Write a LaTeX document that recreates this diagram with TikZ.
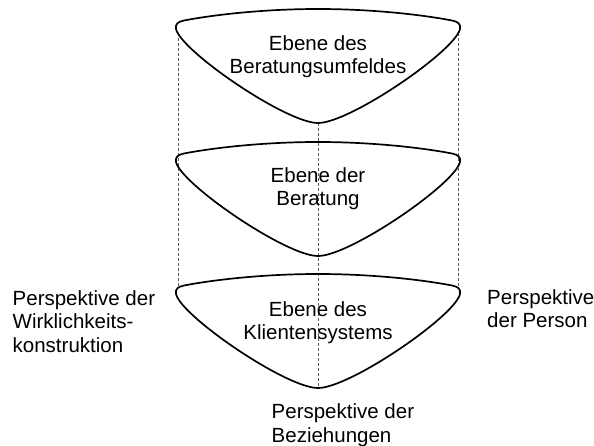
\documentclass[tikz,border=0pt]{standalone}
\usepackage{fontspec}
\setmainfont{Liberation Sans}
\begin{document}
\begin{tikzpicture}[x=1pt,y=-1pt,
  ebenebox/.style={draw=black,line width=1.7pt,line join=round},
  guide/.style={draw=black!65,line width=0.6pt,dash pattern=on 3pt off 2pt},
  txt/.style={inner sep=0pt,font=\fontsize{20.5}{23.5}\selectfont},
]
\useasboundingbox (0,0) rectangle (594,446);
\newcommand\ebenepath[1]{%
  \draw[ebenebox,shift={(318,#1)}]
    (0,0) .. controls (-50,0) and (-100,5) .. (-134,11.5)
    .. controls (-140,12.7) and (-143,15) .. (-142,20)
    .. controls (-137,42) and (-32,114) .. (0,114)
    .. controls (32,114) and (137,42) .. (142,20)
    .. controls (143,15) and (140,12.7) .. (134,11.5)
    .. controls (100,5) and (50,0) .. (0,0) -- cycle;}
% guide coordinates
\coordinate (l1) at (178,33);
\coordinate (l3) at (178,286);
\coordinate (r1) at (458,33);
\coordinate (r3) at (458,286);
\coordinate (m1) at (318,123);
\coordinate (m3) at (318,388);
\draw[guide] (l1) -- (l3);
\draw[guide] (r1) -- (r3);
\draw[guide] (m1) -- (m3);
% shapes
\ebenepath{9}
\ebenepath{142}
\ebenepath{274}
% texts
\node[txt,align=center,anchor=north] (e1) at (318,35) {Ebene des\\Beratungsumfeldes};
\node[txt,align=center,anchor=north] (e2) at (318,167) {Ebene der\\Beratung};
\node[txt,align=center,anchor=north] (e3) at (318,301) {Ebene des\\Klientensystems};
\node[txt,align=left,anchor=north west] (pw) at (12.5,290) {Perspektive der\\Wirklichkeits-\\konstruktion};
\node[txt,align=left,anchor=north west] (pp) at (487,289) {Perspektive\\der Person};
\node[txt,align=left,anchor=north west] (pb) at (271.5,403.5) {Perspektive der\\Beziehungen};
\end{tikzpicture}
\end{document}
